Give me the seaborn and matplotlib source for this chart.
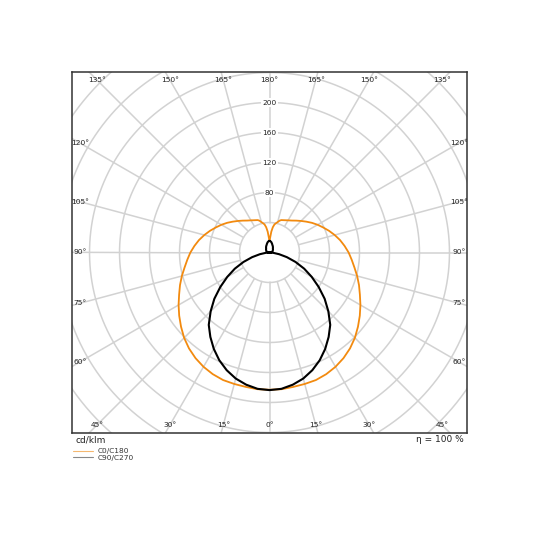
import numpy as np
import matplotlib
matplotlib.use("Agg")
import matplotlib.pyplot as plt
import seaborn as sns
from matplotlib.lines import Line2D

# gamma angles (deg from nadir) and luminous intensity (cd/klm)
gamma = [0, 5, 10, 15, 20, 25, 30, 35, 40, 45, 50, 55, 60, 65, 70, 75, 80, 85, 90,
         95, 100, 105, 110, 115, 120, 125, 130, 135, 140, 145, 150, 155, 160, 162.5, 165,
         167.5, 170, 172.5, 175, 177.5, 180]
c0_c180 = [183, 183, 182, 181.5, 181, 179, 176, 172, 167, 161, 154, 147, 140, 133, 127, 121, 115, 110, 105.5,
           100.5, 95.5, 90, 84.5, 79, 74, 69, 64, 59.5, 55.5, 52, 49.5, 47.5, 46, 44.5, 42,
           40, 38, 34, 28, 20, 15]
c90_c270 = [183.5, 182.5, 179, 174, 167, 158.5, 148.5, 137.5, 126, 111, 96, 80, 65, 51, 37, 24, 13, 5, 0,
            2, 3, 3.5, 4, 4.5, 5, 5.5, 6, 6.5, 7, 8, 9, 10, 11, 11.8, 12.5,
            13.2, 14, 14.5, 15, 15.3, 15.5]

ring_values = [40, 80, 120, 160, 200, 240, 280, 320, 360]
ring_labels = [80, 120, 160, 200]
spoke_angles = list(range(0, 360, 15))
angle_labels = [0, 15, 30, 45, 60, 75, 90, 105, 120, 135, 150, 165, 180]

series_names = ["C0/C180", "C90/C270"]
orange = "#f28a0f"
grid_col = "#d2d2d2"

sns.set_style("white")
plt.rcParams["font.family"] = ["DejaVu Sans"]

fig = plt.figure(figsize=(5.4, 5.4), dpi=100)
ax = fig.add_axes([72 / 540, 107 / 540, 395 / 540, 361 / 540])
XL, YL = 263.3, 240.7
ax.set_xlim(-XL, XL)
ax.set_ylim(-YL, YL)
ax.set_aspect("equal")

# grid: rings and spokes
t = np.linspace(0, 2 * np.pi, 400)
for r in ring_values:
    ax.plot(r * np.cos(t), r * np.sin(t), color=grid_col, lw=1.1, zorder=1)
for a in spoke_angles:
    rad = np.deg2rad(a)
    ax.plot([40 * np.sin(rad), 420 * np.sin(rad)], [-40 * np.cos(rad), -420 * np.cos(rad)],
            color=grid_col, lw=1.1, zorder=1)


def to_xy(vals):
    g = np.array(gamma, dtype=float)
    v = np.array(vals, dtype=float)
    th = np.deg2rad(np.concatenate([-g[::-1], g[1:]]))
    rr = np.concatenate([v[::-1], v[1:]])
    return rr * np.sin(th), -rr * np.cos(th)


x0, y0 = to_xy(c0_c180)
x1, y1 = to_xy(c90_c270)
sns.lineplot(x=x0, y=y0, sort=False, estimator=None, color=orange, lw=1.3, ax=ax, zorder=3)
sns.lineplot(x=x1, y=y1, sort=False, estimator=None, color="black", lw=1.5, ax=ax, zorder=4)

# radial labels along the top spoke
for v in ring_labels:
    ax.text(0, v, str(v), ha="center", va="center", fontsize=5.3, color="#222222", zorder=5,
            bbox=dict(boxstyle="square,pad=0.15", fc="white", ec="none"))

# angle labels where spokes meet an inset of the frame
inset = 8 / 0.75
for a in angle_labels:
    rad = np.deg2rad(a)
    for sgn in ([1] if a in (0, 180) else [-1, 1]):
        dx, dy = sgn * np.sin(rad), -np.cos(rad)
        s = min((XL - inset) / abs(dx) if abs(dx) > 1e-9 else 1e9,
                (YL - inset) / abs(dy) if abs(dy) > 1e-9 else 1e9)
        ax.text(s * dx, s * dy, f"{a}°", ha="center", va="center", fontsize=5.4,
                color="#222222", zorder=5, clip_on=True)

ax.set_xticks([])
ax.set_yticks([])
for sp in ax.spines.values():
    sp.set_visible(True)
    sp.set_color("#333333")
    sp.set_linewidth(1.1)

fig.text(76 / 540, 1 - 440 / 540, "cd/klm", ha="left", va="center", fontsize=6.5, color="#222222")
fig.text(464 / 540, 1 - 440 / 540, "η = 100 %", ha="right", va="center", fontsize=6.5, color="#222222")

handles = [Line2D([], [], color="#f5b870", lw=0.8), Line2D([], [], color="#888888", lw=0.8)]
fig.legend(handles, series_names, loc="upper left", bbox_to_anchor=(73 / 540, 1 - 448 / 540),
           frameon=False, fontsize=5.3, handlelength=2.7, handletextpad=0.6, labelspacing=0.05,
           borderpad=0, borderaxespad=0, labelcolor="#333333")

fig.savefig("out.png", dpi=100)
